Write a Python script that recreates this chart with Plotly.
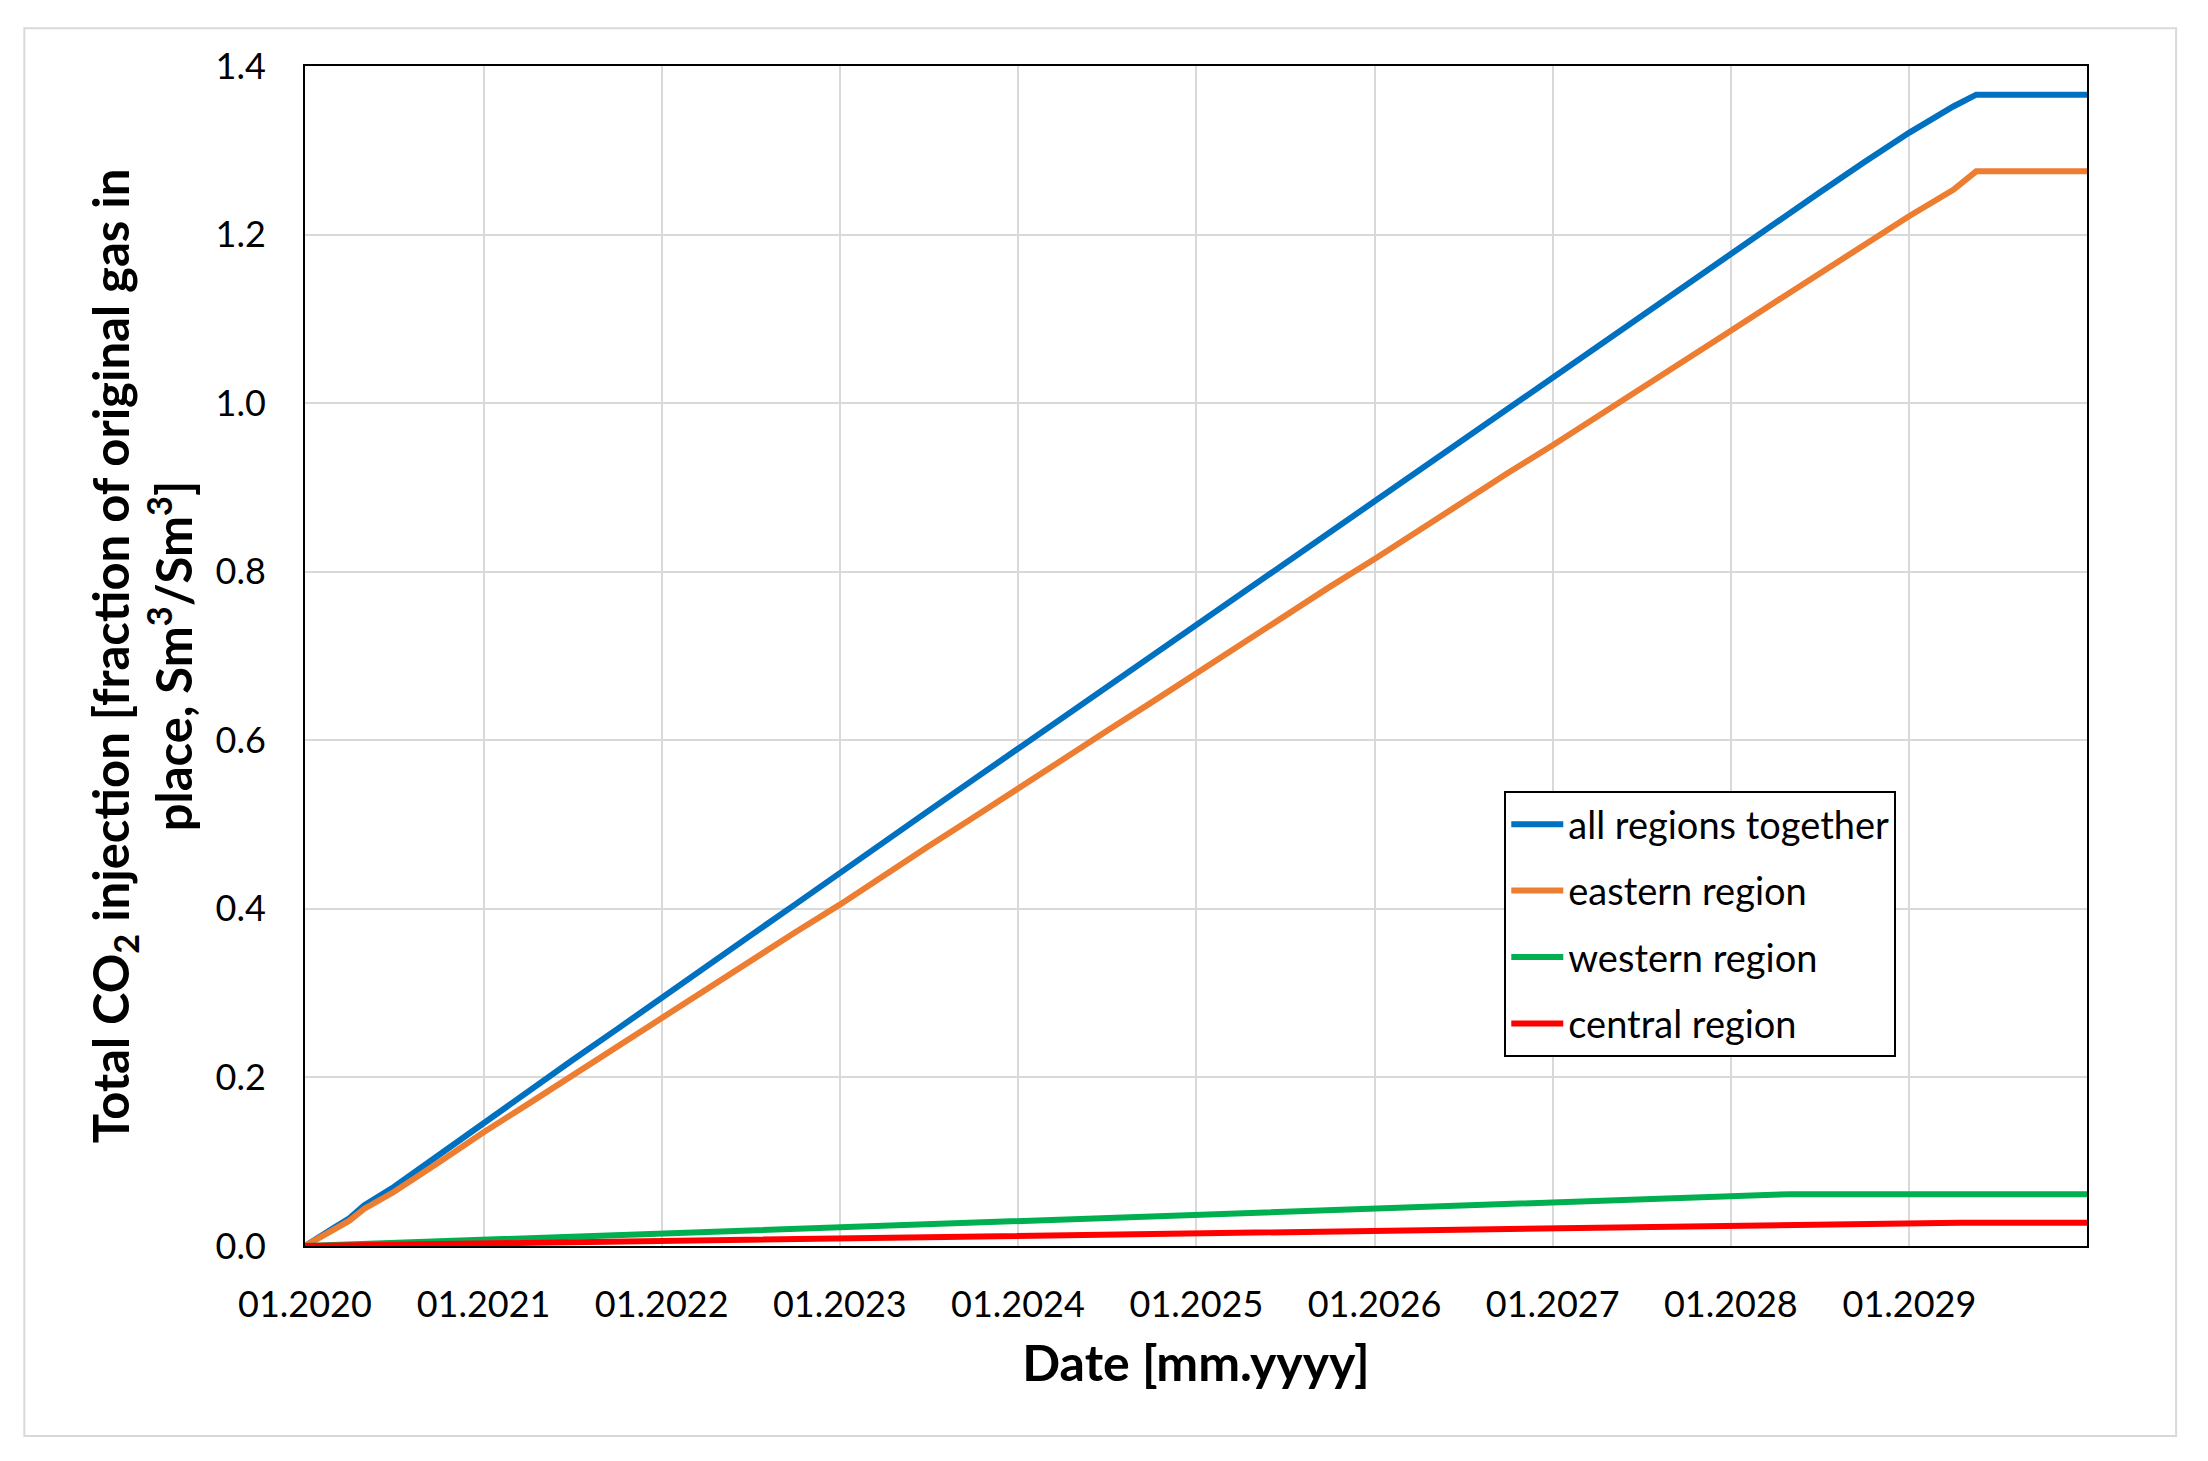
import plotly.graph_objects as go

# ---- data ----
dates_main = ["2020-01-01", "2020-02-01", "2020-03-01", "2020-04-01", "2020-05-01", "2020-07-01", "2020-10-01",
              "2021-01-01", "2021-04-01", "2021-07-01", "2021-10-01",
              "2022-01-01", "2022-04-01", "2022-07-01", "2022-10-01",
              "2023-01-01", "2023-04-01", "2023-07-01", "2023-10-01",
              "2024-01-01", "2024-04-01", "2024-07-01", "2024-10-01",
              "2025-01-01", "2025-04-01", "2025-07-01", "2025-10-01",
              "2026-01-01", "2026-04-01", "2026-07-01", "2026-10-01",
              "2027-01-01", "2027-04-01", "2027-07-01", "2027-10-01",
              "2028-01-01", "2028-04-01", "2028-07-01", "2028-10-01",
              "2029-01-01", "2029-04-01", "2029-05-18", "2029-12-31"]
all_regions = [0.0, 0.012, 0.022, 0.033, 0.048, 0.070, 0.108,
               0.147, 0.183, 0.220, 0.257,
               0.295, 0.332, 0.368, 0.405,
               0.443, 0.479, 0.516, 0.553,
               0.590, 0.627, 0.663, 0.700,
               0.738, 0.774, 0.811, 0.848,
               0.885, 0.921, 0.958, 0.994,
               1.031, 1.068, 1.104, 1.141,
               1.178, 1.214, 1.250, 1.286,
               1.321, 1.352, 1.366, 1.366]
eastern = [0.0, 0.010, 0.019, 0.030, 0.044, 0.064, 0.099,
           0.135, 0.168, 0.202, 0.236,
           0.270, 0.304, 0.338, 0.372,
           0.405, 0.440, 0.474, 0.508,
           0.543, 0.577, 0.611, 0.645,
           0.680, 0.714, 0.748, 0.782,
           0.815, 0.849, 0.883, 0.917,
           0.950, 0.984, 1.018, 1.052,
           1.086, 1.120, 1.154, 1.188,
           1.222, 1.253, 1.275, 1.275]

dates_west = ["2020-01-01", "2021-01-01", "2022-01-01", "2023-01-01", "2024-01-01", "2025-01-01",
              "2026-01-01", "2027-01-01", "2028-01-01", "2028-05-01", "2029-12-31"]
western = [0.0, 0.0075, 0.015, 0.022, 0.030, 0.037, 0.045, 0.052, 0.059, 0.0615, 0.0615]

dates_central = ["2020-01-01", "2021-01-01", "2022-01-01", "2023-01-01", "2024-01-01", "2025-01-01",
                 "2026-01-01", "2027-01-01", "2028-01-01", "2029-01-01", "2029-04-15", "2029-12-31"]
central = [0.0, 0.003, 0.006, 0.0095, 0.012, 0.015, 0.018, 0.021, 0.024, 0.0265, 0.0277, 0.0277]

series_names = ["all regions together", "eastern region", "western region", "central region"]
colors = ["#0070C0", "#ED7D31", "#00B050", "#FF0000"]

FONT = "Lato, 'Open Sans', sans-serif"

fig = go.Figure()
for i, (name, x, y) in enumerate([
        (series_names[0], dates_main, all_regions),
        (series_names[1], dates_main, eastern),
        (series_names[2], dates_west, western),
        (series_names[3], dates_central, central)]):
    fig.add_trace(go.Scatter(x=x, y=y, mode="lines", name=name, legendgroup=name,
                             line=dict(color=colors[i], width=6)))

fig.update_layout(
    width=2192, height=1445,
    margin=dict(l=297, r=113, t=58, b=207, autoexpand=False),
    paper_bgcolor="white", plot_bgcolor="white",
    font=dict(family=FONT, size=36, color="black"),
    showlegend=True,
    legend=dict(x=0.673, y=0.3856, xanchor="left", yanchor="top",
                bordercolor="black", borderwidth=2, bgcolor="white",
                font=dict(family=FONT, size=38, color="black"),
                tracegroupgap=14, itemwidth=52),
    shapes=[dict(type="rect", xref="paper", yref="paper",
                 x0=-0.1575, x1=1.05, y0=-0.161, y1=1.032,
                 line=dict(color="#D9D9D9", width=2), layer="below")],
)

fig.update_xaxes(
    type="date", range=["2020-01-01", "2029-12-31"],
    tick0="2020-01-01", dtick="M12", tickformat="%m.%Y",
    showgrid=True, gridcolor="#D9D9D9", gridwidth=2,
    showline=True, linecolor="black", linewidth=2, mirror=True,
    ticks="", ticklabelstandoff=26, zeroline=False,
    tickfont=dict(family=FONT, size=36, color="black"),
    title=dict(text="<b>Date [mm.yyyy]</b>", font=dict(family=FONT, size=50, color="black"), standoff=22),
    automargin=False,
)
fig.update_yaxes(
    range=[0, 1.4], dtick=0.2, tickformat=".1f",
    showgrid=True, gridcolor="#D9D9D9", gridwidth=2,
    showline=True, linecolor="black", linewidth=2, mirror=True,
    ticks="", ticklabelstandoff=30, zeroline=False,
    tickfont=dict(family=FONT, size=36, color="black"),
    title=dict(text="<b>Total CO<sub>2</sub> injection [fraction of original gas in<br>place, Sm<sup>3</sup>/Sm<sup>3</sup>]</b>",
               font=dict(family=FONT, size=49, color="black"), standoff=7),
    automargin=False,
)

fig.write_html("out.html")
